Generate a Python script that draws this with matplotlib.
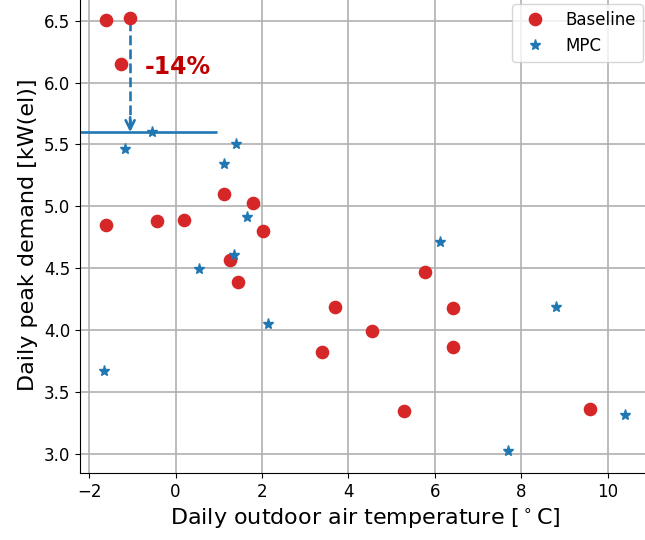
import matplotlib
matplotlib.use("Agg")
import matplotlib.pyplot as plt

baseline_temp = [-1.615, -1.055, -1.27, -1.615, -0.44, 0.19, 1.12, 1.79, 2.02, 1.26,
                 1.45, 3.68, 3.39, 4.54, 5.29, 5.78, 6.41, 6.42, 9.59]
baseline_peak = [6.51, 6.52, 6.15, 4.85, 4.88, 4.89, 5.10, 5.03, 4.80, 4.57,
                 4.39, 4.19, 3.82, 3.99, 3.35, 4.47, 4.18, 3.86, 3.36]

mpc_temp = [-0.55, -1.17, 1.41, 1.11, 1.66, 1.35, 0.54, 2.14, 6.12, 8.81, 10.41, 7.69, -1.65]
mpc_peak = [5.60, 5.46, 5.50, 5.34, 4.91, 4.61, 4.49, 4.05, 4.71, 4.19, 3.31, 3.02, 3.67]

arrow_x = -1.05
peak_before = 6.50
peak_after = 5.60
hline_end = 0.95
reduction_label = "-14%"
label_pos = (-0.72, 6.13)

fig = plt.figure(figsize=(6.45, 5.40), dpi=100)
ax = fig.add_axes([80 / 645, 67 / 540, (651 - 80) / 645, (477) / 540])

ax.grid(True, color="#b0b0b0", linewidth=1.2, zorder=0)
ax.set_axisbelow(True)

ax.plot(baseline_temp, baseline_peak, "o", color="tab:red", ms=8.8, ls="none",
        label="Baseline", zorder=3)
ax.plot(mpc_temp, mpc_peak, "*", color="tab:blue", ms=8, ls="none",
        label="MPC", zorder=3)

xmin, xmax = -2.21, 11.0
ax.set_xlim(xmin, xmax)
ax.set_ylim(2.845, 6.70)

ax.hlines(peak_after, xmin, hline_end, color="tab:blue", lw=1.9, zorder=2)
ax.plot([arrow_x, arrow_x], [peak_before, peak_after + 0.04], ls="--",
        color="tab:blue", lw=1.9, zorder=2)
ax.annotate("", xy=(arrow_x, peak_after), xytext=(arrow_x, peak_after + 0.12),
            arrowprops=dict(arrowstyle="->", color="tab:blue", lw=1.9,
                            shrinkA=0, shrinkB=0, mutation_scale=16), zorder=2)
ax.text(label_pos[0], label_pos[1], reduction_label, color="#c00000",
        fontsize=17, fontweight="bold", va="center", ha="left")

ax.set_xticks([-2, 0, 2, 4, 6, 8, 10])
ax.set_yticks([3.0, 3.5, 4.0, 4.5, 5.0, 5.5, 6.0, 6.5])
ax.tick_params(labelsize=12)
ax.set_xlabel(r"Daily outdoor air temperature [$^\circ$C]", fontsize=16)
ax.set_ylabel("Daily peak demand [kW(el)]", fontsize=16)

ax.legend(loc="upper right", fontsize=12)

fig.savefig("out.png", dpi=100)
